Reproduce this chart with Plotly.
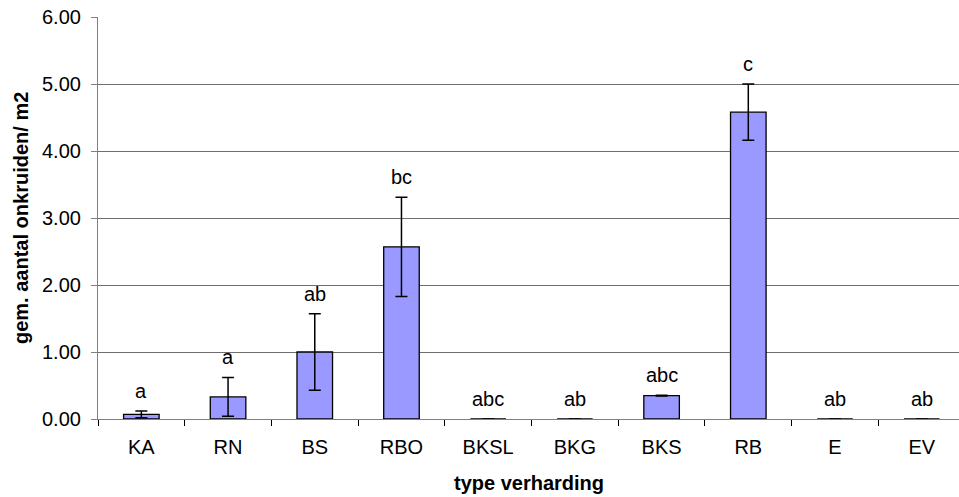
import plotly.graph_objects as go

# Mean weed count per m2 for each pavement type, with standard error
categories = ["KA", "RN", "BS", "RBO", "BKSL", "BKG", "BKS", "RB", "E", "EV"]
mean_weeds = [0.07, 0.33, 1.00, 2.57, 0.00, 0.00, 0.35, 4.58, 0.00, 0.00]
std_error = [0.05, 0.29, 0.57, 0.74, 0.00, 0.00, 0.005, 0.42, 0.00, 0.00]
sig_letters = ["a", "a", "ab", "bc", "abc", "ab", "abc", "c", "ab", "ab"]
y_ticks = [0, 1, 2, 3, 4, 5, 6]

FONT = "Liberation Sans, Arial, sans-serif"
AXIS = "#808080"
GRID = "#6E6E6E"

fig = go.Figure()
# invisible helper trace so the gridline axis is rendered
fig.add_trace(go.Scatter(x=categories[:1], y=[0], yaxis="y2", mode="markers",
                         marker=dict(opacity=0), hoverinfo="skip", showlegend=False))
fig.add_trace(go.Bar(
    x=categories,
    y=mean_weeds,
    width=0.41,
    marker=dict(color="#9999FF", line=dict(color="#000000", width=1.3)),
    error_y=dict(type="data", array=std_error, visible=True,
                 color="#000000", thickness=1.5, width=6),
    showlegend=False,
))

# significance letters above each bar
for cat, m, e, lab in zip(categories, mean_weeds, std_error, sig_letters):
    fig.add_annotation(x=cat, y=m + e + 0.3, text=lab, showarrow=False,
                       xref="x", yref="y", yanchor="middle",
                       font=dict(family=FONT, size=20, color="#000000"))

fig.add_annotation(text="<b>gem. aantal onkruiden/ m2</b>", textangle=-90,
                   xref="paper", yref="paper", x=(21 - 98) / 861, y=0.5,
                   xanchor="center", yanchor="middle", showarrow=False,
                   font=dict(family=FONT, size=20, color="#000000"))
fig.add_annotation(text="<b>type verharding</b>",
                   xref="paper", yref="paper", x=(529 - 98) / 861, y=-(483 - 419) / 402,
                   xanchor="center", yanchor="middle", showarrow=False,
                   font=dict(family=FONT, size=20, color="#000000"))

fig.update_layout(
    width=959, height=497,
    margin=dict(l=98, r=0, t=17, b=78),
    paper_bgcolor="#FFFFFF", plot_bgcolor="#FFFFFF",
    font=dict(family=FONT, size=20, color="#000000"),
    bargap=0.59,
    xaxis=dict(type="category", range=[-0.5, 9.43], showline=True,
               linecolor=AXIS, linewidth=1.2, ticks="outside", tickson="boundaries",
               ticklen=6, tickcolor="#000000", tickwidth=1, showgrid=False,
               ticklabelstandoff=10, tickfont=dict(family=FONT, size=20)),
    yaxis=dict(range=[0, 6], tickvals=y_ticks,
               ticktext=[f"{v:.2f}" for v in y_ticks],
               showline=True, linecolor=AXIS, linewidth=1.2, ticks="outside",
               ticklen=6, tickcolor=AXIS, showgrid=False, zeroline=False,
               ticklabelstandoff=6, tickfont=dict(family=FONT, size=20)),
    # gridlines at the inner ticks only
    yaxis2=dict(overlaying="y", range=[0, 6], tickvals=y_ticks[1:-1],
                showgrid=True, gridcolor=GRID, gridwidth=1.2,
                showticklabels=False, ticks="", showline=False, zeroline=False),
)

fig.write_html("out.html")
